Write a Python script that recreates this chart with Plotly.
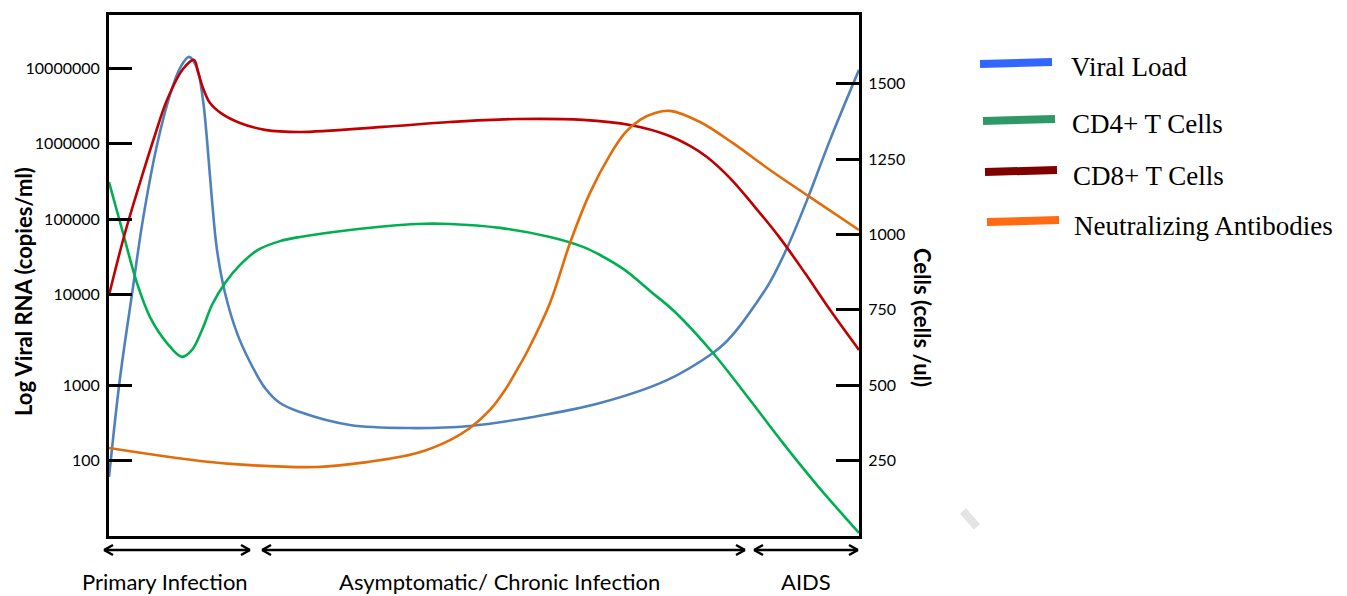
import plotly.graph_objects as go

# ---------------- data (x: time, 0-100 arbitrary; y: cells/ul scale of right axis) -------------
viral_x = [0, 1.47, 3.07, 4.53, 6.4, 8.13, 9.47, 10.67, 11.73, 12.53, 13.07, 13.73, 14.4, 15.47,
           17.07, 18.8, 20.8, 22.8, 25.47, 32.13, 40.13, 48.13, 56.53, 65.47, 74.4, 80.53,
           82.13, 84.13, 86.13, 88.13, 90.4, 93.07, 96.13, 100]
viral_y = [196, 524, 803, 1051, 1297, 1463, 1552, 1589, 1552, 1446, 1313, 1114, 949, 806,
           673, 577, 491, 441, 411, 368, 358, 365, 395, 441, 517, 607,
           640, 697, 766, 842, 955, 1114, 1313, 1546]

cd8_x = [0, 2.13, 4.53, 6.13, 7.73, 9.87, 11.33, 11.87, 12.53, 13.47, 15.07, 17.47, 20.8, 25.47,
         36.53, 45.47, 54.4, 63.2, 69.47, 74.4, 77.47, 79.73, 82.8, 86.13, 89.47, 92.8, 96.13, 100]
cd8_y = [799, 1005, 1204, 1330, 1446, 1549, 1579, 1539, 1486, 1436, 1400, 1370, 1347, 1340,
         1357, 1373, 1383, 1380, 1363, 1330, 1294, 1257, 1187, 1091, 988, 872, 750, 617]

cd4_x = [0, 1.87, 3.73, 5.47, 7.73, 9.73, 11.07, 12.4, 13.73, 15.47, 17.47, 19.87, 22.8, 25.47,
         32.13, 41.07, 45.47, 52.13, 58.8, 63.2, 65.47, 68.8, 72.13, 75.47, 80.53, 85.47, 89.87,
         94.4, 100]
cd4_y = [1174, 1005, 839, 726, 640, 594, 617, 683, 766, 839, 899, 949, 978, 992,
         1015, 1035, 1035, 1022, 992, 959, 932, 882, 813, 743, 607, 451, 308,
         169, 10]

ab_x = [0, 12.13, 18.8, 27.73, 34.4, 41.07, 45.47, 48.13, 50.8, 52.8, 54.4, 55.87, 58.8, 61.47,
        64.13, 66.8, 68.8, 70.8, 72.8, 74.8, 78.8, 83.2, 88.13, 93.47, 100]
ab_y = [292, 249, 235, 229, 245, 275, 318, 358, 418, 484, 551, 617, 773, 972,
        1138, 1264, 1337, 1380, 1403, 1410, 1373, 1303, 1214, 1124, 1015]

# left axis (log viral RNA) tick positions on the common vertical scale, and labels
left_tickvals = [250, 500, 802, 1051, 1301, 1551]
left_ticktext = ["100", "1000", "10000", "100000", "1000000", "10000000"]
right_tickvals = [250, 500, 750, 1000, 1250, 1500]
right_ticktext = ["250", "500", "750", "1000", "1250", "1500"]

series_names = ["Viral Load", "CD4+ T Cells", "CD8+ T Cells", "Neutralizing Antibodies"]
phase_labels = ["Primary Infection", "Asymptomatic/ Chronic Infection", "AIDS"]

# ---------------- layout helpers ----------------
W, H = 1347, 596
L, R, T, B = 109, 488, 15, 60
PW, PH = W - L - R, H - T - B


def px(x):
    return (x - L) / PW


def py(y):
    return (H - B - y) / PH


Y_MAX = 1728

fig = go.Figure()
line_w = 2.6
sm = 1.0
fig.add_trace(go.Scatter(x=viral_x, y=viral_y, mode="lines", name=series_names[0],
                         line=dict(color="#4F81BD", width=line_w, shape="spline", smoothing=sm)))
fig.add_trace(go.Scatter(x=cd4_x, y=cd4_y, mode="lines", name=series_names[1],
                         line=dict(color="#00B050", width=line_w, shape="spline", smoothing=sm)))
fig.add_trace(go.Scatter(x=cd8_x, y=cd8_y, mode="lines", name=series_names[2],
                         line=dict(color="#C00000", width=line_w, shape="spline", smoothing=sm)))
fig.add_trace(go.Scatter(x=ab_x, y=ab_y, mode="lines", name=series_names[3],
                         line=dict(color="#E36C09", width=line_w, shape="spline", smoothing=sm)))
# invisible trace to activate right axis
fig.add_trace(go.Scatter(x=[None], y=[None], yaxis="y2", showlegend=False, hoverinfo="skip"))

tick_font = dict(family="Lato, Carlito, Calibri, sans-serif", size=16, color="#000")

fig.update_layout(
    width=W, height=H, autosize=False,
    margin=dict(l=L, r=R, t=T, b=B, pad=0),
    paper_bgcolor="white", plot_bgcolor="white",
    showlegend=False,
    xaxis=dict(range=[0, 100], showgrid=False, zeroline=False, showticklabels=False,
               ticks="", showline=True, linecolor="#000", linewidth=3, mirror=True),
    yaxis=dict(range=[0, Y_MAX], showgrid=False, zeroline=False,
               tickmode="array", tickvals=left_tickvals, ticktext=left_ticktext,
               ticks="inside", ticklen=23, tickwidth=3, tickcolor="#000", ticklabelstandoff=3,
               showline=True, linecolor="#000", linewidth=3, tickfont=tick_font),
    yaxis2=dict(range=[0, Y_MAX], overlaying="y", side="right", showgrid=False, zeroline=False,
                tickmode="array", tickvals=right_tickvals, ticktext=right_ticktext,
                ticks="inside", ticklen=23, tickwidth=3, tickcolor="#000", ticklabelstandoff=3,
                showline=True, linecolor="#000", linewidth=3, tickfont=tick_font),
)

shapes = []
annotations = []

# axis titles
title_font = dict(family="Lato, Carlito, Calibri, sans-serif", size=22, color="#000")
annotations.append(dict(x=px(23), y=py(292), xref="paper", yref="paper", text="<b>Log Viral RNA (copies/ml)</b>",
                        textangle=-90, showarrow=False, font=title_font, xanchor="center", yanchor="middle"))
annotations.append(dict(x=px(923), y=py(317), xref="paper", yref="paper", text="<b>Cells (cells /ul)</b>",
                        textangle=90, showarrow=False, font=title_font, xanchor="center", yanchor="middle"))

# phase arrows
arrow_y = 550
segments = [(104, 250), (262, 745), (754, 858)]
label_centers = [165, 499, 806]
for (x0, x1), lab, cx in zip(segments, phase_labels, label_centers):
    lw = 2.4
    shapes.append(dict(type="line", xref="paper", yref="paper", x0=px(x0), x1=px(x1),
                       y0=py(arrow_y), y1=py(arrow_y), line=dict(color="#000", width=lw)))
    for xe, d in ((x0, 1), (x1, -1)):
        for dy in (-5, 5):
            shapes.append(dict(type="line", xref="paper", yref="paper", x0=px(xe), y0=py(arrow_y),
                               x1=px(xe + d * 9), y1=py(arrow_y + dy), line=dict(color="#000", width=lw)))
    annotations.append(dict(x=px(cx), y=py(581), xref="paper", yref="paper", text=lab, showarrow=False,
                            font=dict(family="Lato, Carlito, Calibri, sans-serif", size=22, color="#000"),
                            xanchor="center", yanchor="middle", borderpad=0))

# manual legend (colours as in the reference key)
legend_colors = ["#3366FF", "#2E9966", "#800000", "#FF6A13"]
legend_lines = [((980, 64), (1052, 62)), ((983, 121), (1055, 119)),
                ((985, 172), (1057, 170)), ((987, 222), (1059, 220))]
legend_text_pos = [(1069, 67), (1070, 124), (1071, 176), (1072, 226)]
for name, col, ((a, b), (c, d)), (tx, ty) in zip(series_names, legend_colors, legend_lines, legend_text_pos):
    shapes.append(dict(type="line", xref="paper", yref="paper", x0=px(a), y0=py(b), x1=px(c), y1=py(d),
                       line=dict(color=col, width=8)))
    annotations.append(dict(x=px(tx), y=py(ty), xref="paper", yref="paper", text=name, showarrow=False,
                            font=dict(family="Liberation Serif, Times New Roman, serif", size=27, color="#000"),
                            xanchor="left", yanchor="middle"))

# faint grey mark at lower right
shapes.append(dict(type="line", xref="paper", yref="paper", x0=px(963), y0=py(511), x1=px(977), y1=py(527),
                   line=dict(color="#E4E4E4", width=8)))

fig.update_layout(shapes=shapes, annotations=annotations)
fig.write_html("out.html")
